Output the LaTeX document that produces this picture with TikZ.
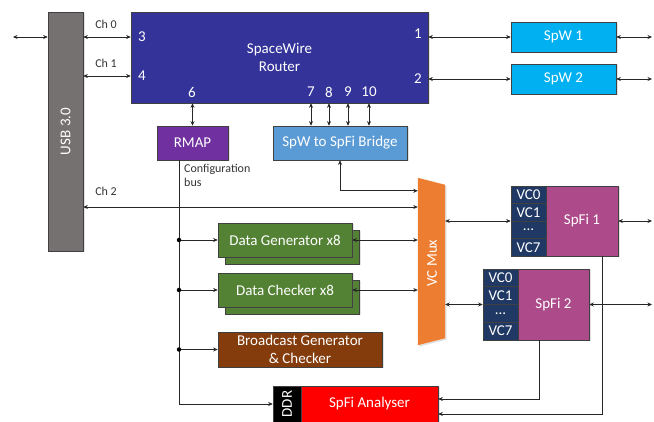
\documentclass[tikz,border=0pt]{standalone}
\usepackage{fontspec}
\setmainfont{Carlito}
\usetikzlibrary{arrows.meta,shadows,calc}
\definecolor{usbc}{HTML}{767171}
\definecolor{routerc}{HTML}{333399}
\definecolor{spwc}{HTML}{00B0F0}
\definecolor{rmapc}{HTML}{7030A0}
\definecolor{bridgec}{HTML}{5B9BD5}
\definecolor{muxc}{HTML}{ED7D31}
\definecolor{greenc}{HTML}{548235}
\definecolor{brownc}{HTML}{843C0C}
\definecolor{vcc}{HTML}{1F3864}
\definecolor{spfic}{HTML}{AD4A8A}
\definecolor{anc}{HTML}{FF0000}
\definecolor{edgec}{HTML}{404040}
\begin{document}
\begin{tikzpicture}[x=1pt,y=-1pt,
  box/.style={draw=edgec, line width=0.6pt, text=white, inner sep=0pt,
    font=\fontsize{15}{17.5}\selectfont, align=center,
    drop shadow={opacity=0.22,shadow xshift=1.5pt,shadow yshift=-1.5pt}},
  vcbox/.style={draw=edgec, line width=0.6pt, fill=vcc, text=white, inner sep=0pt,
    font=\fontsize{15}{17}\selectfont, minimum width=35pt},
  wtxt/.style={text=white, inner sep=0pt, font=\fontsize{15}{17}\selectfont},
  lbl/.style={font=\fontsize{12}{14.5}\selectfont, text=black!80, inner sep=0pt, align=left},
  bi/.style={{Stealth[length=4.5pt,width=4pt]}-{Stealth[length=4.5pt,width=4pt]}, line width=0.7pt, draw=black!85},
  one/.style={-{Stealth[length=4.5pt,width=4pt]}, line width=0.7pt, draw=black!85},
  jdot/.style={circle, fill=black, inner sep=0pt, minimum size=4.5pt}
]
\useasboundingbox (0,0) rectangle (654,422);

% USB
\node[box, fill=usbc, minimum width=35pt, minimum height=239pt] (usb) at (65.5,131.5) {};
\node[wtxt, rotate=90] (usbt) at (usb.center) {USB 3.0};

% Router
\node[box, fill=routerc, minimum width=297pt, minimum height=91pt] (router) at (279.5,57.5) {SpaceWire\\Router};
\node[wtxt] (n3) at (142,37) {3};
\node[wtxt] (n4) at (142,76) {4};
\node[wtxt] (n6) at (192,92) {6};
\node[wtxt] (n7) at (311,92) {7};
\node[wtxt] (n8) at (329,92) {8};
\node[wtxt] (n9) at (348,92) {9};
\node[wtxt] (n10) at (369,92) {10};
\node[wtxt] (n1) at (418,34) {1};
\node[wtxt] (n2) at (418,79) {2};

% SpW
\node[box, fill=spwc, minimum width=105pt, minimum height=30pt] (spw1) at (563.5,37) {SpW 1};
\node[box, fill=spwc, minimum width=105pt, minimum height=30pt] (spw2) at (563.5,79) {SpW 2};

% RMAP and bridge
\node[box, fill=rmapc, minimum width=71pt, minimum height=34pt] (rmap) at (192.5,143) {RMAP};
\node[box, fill=bridgec, minimum width=134pt, minimum height=34pt] (bridge) at (340,143) {SpW to SpFi Bridge};

% Generators / checkers
\node[box, fill=greenc, minimum width=134pt, minimum height=34pt] (dgb) at (292,247) {};
\node[box, fill=greenc, minimum width=134pt, minimum height=34pt] (dg) at (285,240) {Data Generator x8};
\node[box, fill=greenc, minimum width=134pt, minimum height=34pt] (dcb) at (292,297) {};
\node[box, fill=greenc, minimum width=134pt, minimum height=34pt] (dc) at (285,290) {Data Checker x8};
\node[box, fill=brownc, minimum width=164pt, minimum height=35pt] (bc) at (300,349.5) {Broadcast Generator\\\& Checker};

% VC Mux
\node[minimum width=27pt, minimum height=167pt, inner sep=0pt] (vcmux) at (431.5,261.5) {};
\fill[muxc, drop shadow={opacity=0.22,shadow xshift=1.5pt,shadow yshift=-1.5pt}]
  (vcmux.north west) -- ($(vcmux.north east)+(0,7)$) -- ($(vcmux.south east)+(0,-7)$) -- (vcmux.south west) -- cycle;
\node[wtxt, rotate=90] (muxt) at (432,263) {VC Mux};

% SpFi 1
\node[box, fill=spfic, minimum width=72pt, minimum height=70pt] (s1) at (582,221) {SpFi 1};
\node[vcbox, minimum height=17.5pt] (s1c0) at (528.5,194.75) {VC0};
\node[vcbox, minimum height=17.5pt] (s1c1) at (528.5,212.25) {VC1};
\node[vcbox, minimum height=17.5pt] (s1c2) at (528.5,229.75) {...};
\node[vcbox, minimum height=17.5pt] (s1c7) at (528.5,247.25) {VC7};

% SpFi 2
\node[box, fill=spfic, minimum width=71pt, minimum height=71pt] (s2) at (553.5,304.5) {SpFi 2};
\node[vcbox, minimum height=17.75pt] (s2c0) at (500.5,277.9) {VC0};
\node[vcbox, minimum height=17.75pt] (s2c1) at (500.5,295.6) {VC1};
\node[vcbox, minimum height=17.75pt] (s2c2) at (500.5,313.4) {...};
\node[vcbox, minimum height=17.75pt] (s2c7) at (500.5,331.1) {VC7};

% Analyser
\node[box, fill=black, minimum width=28pt, minimum height=36pt] (ddr) at (287,404) {};
\node[wtxt, rotate=90] (ddrt) at (ddr.center) {DDR};
\node[box, fill=anc, minimum width=137pt, minimum height=36pt] (an) at (369.5,404) {SpFi Analyser};

% labels
\node[lbl] (ch0) at (106,24) {Ch 0};
\node[lbl] (ch1) at (106,63) {Ch 1};
\node[lbl] (ch2) at (106,191) {Ch 2};
\node[lbl, anchor=north west] (cfg) at (184,164) {Configuration\\bus};

% helper coordinates
\coordinate (extL) at (13,37);
\coordinate (extR1) at (652,37);
\coordinate (extR2) at (652,79);
\coordinate (extR3) at (652,222);
\coordinate (extR4) at (652,304);
\coordinate (ch2y) at (0,207);
\coordinate (cbtop) at (179,160);
\coordinate (s1d) at (602,256);
\coordinate (s2d) at (539,340);

% connectors
\draw[bi] (extL) -- (usb.west |- extL);
\draw[bi] (usb.east |- n3) -- (router.west |- n3);
\draw[bi] (usb.east |- n4) -- (router.west |- n4);
\draw[bi] (router.east |- spw1.west) -- (spw1.west);
\draw[bi] (router.east |- spw2.west) -- (spw2.west);
\draw[bi] (spw1.east) -- (extR1);
\draw[bi] (spw2.east) -- (extR2);
\draw[bi] (router.south -| rmap.north) -- (rmap.north);
\foreach \p in {n7,n8,n9,n10} \draw[bi] (router.south -| \p) -- (bridge.north -| \p);
\draw[bi] (bridge.south) |- ($(vcmux.north west)+(0,13)$);
\draw[bi] (usb.east |- ch2y) -- (vcmux.west |- ch2y);
\draw[bi] (dg.east) -- (vcmux.west |- dg.east);
\draw[bi] (dc.east) -- (vcmux.west |- dc.east);
\draw[bi] (vcmux.east |- s1.west) -- (s1c0.west |- s1.west);
\draw[bi] (vcmux.east |- s2.west) -- (s2c0.west |- s2.west);
\draw[bi] (s1.east) -- (extR3 |- s1.east);
\draw[bi] (s2.east) -- (extR4 |- s2.east);

% configuration bus
\draw[one] (cbtop) |- (ddr.west);
\node[jdot] (j1) at (cbtop |- dg.west) {};
\node[jdot] (j2) at (cbtop |- dc.west) {};
\node[jdot] (j3) at (cbtop |- bc.west) {};
\draw[one] (j1) -- (dg.west);
\draw[one] (j2) -- (dc.west);
\draw[one] (j3) -- (bc.west);

% SpFi to analyser
\draw[one] (s2d) |- ($(an.east)+(0,-5)$);
\draw[one] (s1d) |- ($(an.east)+(0,10)$);
\end{tikzpicture}
\end{document}
